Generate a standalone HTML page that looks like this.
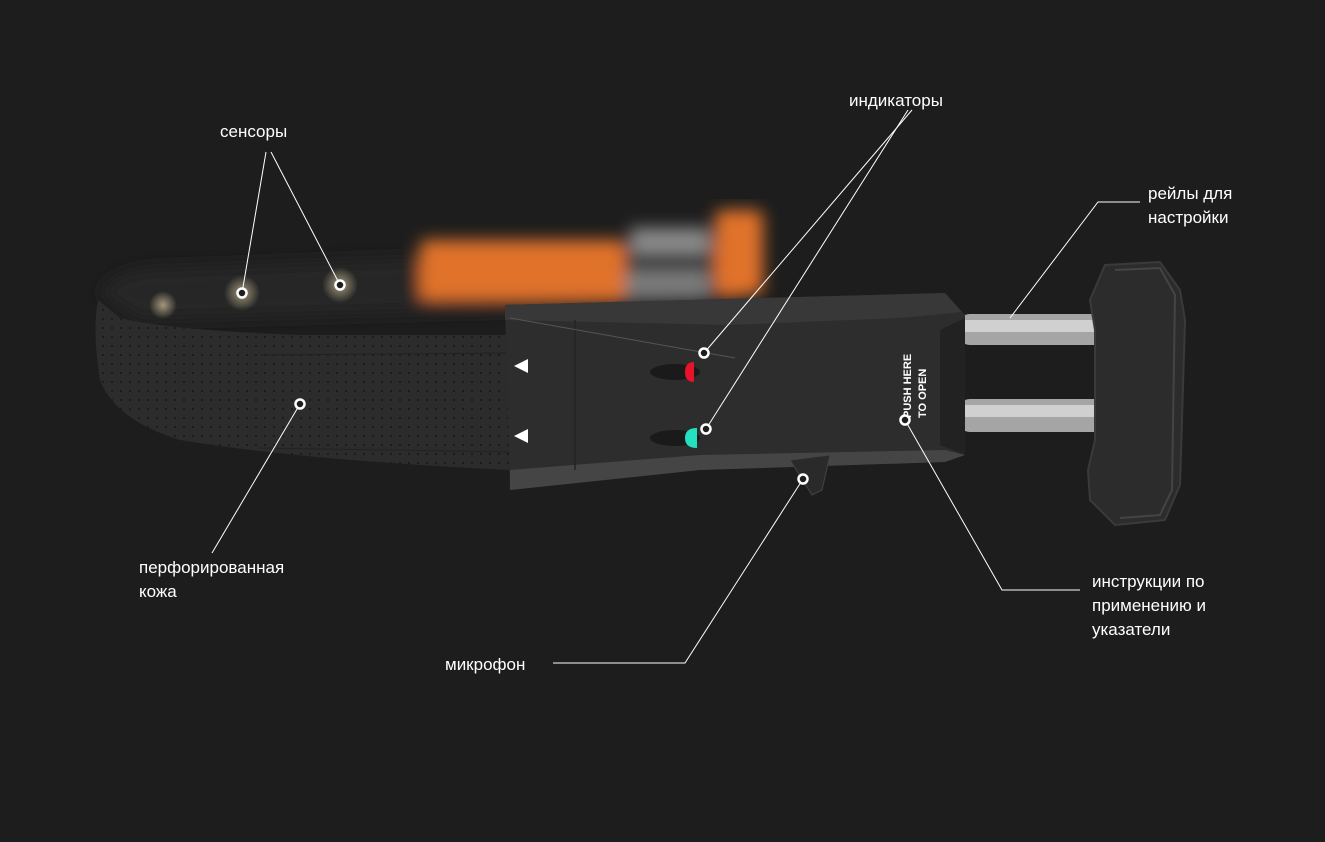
<!DOCTYPE html>
<html><head><meta charset="utf-8"><style>
html,body{margin:0;padding:0;background:#1d1d1d;}
svg{display:block}
text{font-family:"Liberation Sans","DejaVu Sans",sans-serif;font-size:17px;fill:#fff}
</style></head><body>
<svg width="1325" height="842" viewBox="0 0 1325 842" xmlns="http://www.w3.org/2000/svg">
<defs>
<filter id="b6"><feGaussianBlur stdDeviation="8"/></filter>
<filter id="b3"><feGaussianBlur stdDeviation="3"/></filter>
<pattern id="dots" width="9" height="9" patternUnits="userSpaceOnUse"><circle cx="4" cy="4" r="1.1" fill="#151515"/></pattern>
<radialGradient id="glow"><stop offset="0" stop-color="#d8c9a0" stop-opacity="0.7"/><stop offset="1" stop-color="#d8c9a0" stop-opacity="0"/></radialGradient>
<clipPath id="strapclip"><path d="M98 300 Q92 330 100 380 Q115 420 180 440 Q300 460 510 470 L510 335 L300 335 Q170 330 120 318 Z"/></clipPath>
</defs>
<rect width="1325" height="842" fill="#1d1d1d"/>
<g filter="url(#b6)">
<path d="M100 295 Q110 270 160 268 L500 255 L740 240 L740 300 L500 310 L140 320 Z" fill="#262626"/>
<rect x="420" y="240" width="205" height="60" rx="6" fill="#e0722a"/>
<rect x="715" y="210" width="48" height="85" rx="8" fill="#e0722a"/>
<rect x="630" y="228" width="80" height="26" fill="#8a8a8a"/>
<rect x="625" y="270" width="85" height="28" fill="#7a7a7a"/>
</g>
<circle cx="242" cy="293" r="18" fill="url(#glow)"/>
<circle cx="340" cy="285" r="18" fill="url(#glow)"/>
<circle cx="163" cy="305" r="14" fill="url(#glow)"/>
<path d="M98 300 Q92 330 100 380 Q115 420 180 440 Q300 460 510 470 L510 335 L300 335 Q170 330 120 318 Z" fill="#2c2c2c"/>
<rect x="90" y="300" width="420" height="175" fill="url(#dots)" clip-path="url(#strapclip)" opacity="0.8"/>
<line x1="260" y1="355" x2="510" y2="353" stroke="#222" stroke-width="1"/>
<line x1="260" y1="448" x2="510" y2="452" stroke="#222" stroke-width="1"/>
<rect x="958" y="314" width="152" height="31" rx="12" fill="#a5a5a5"/>
<rect x="960" y="320" width="150" height="12" rx="5" fill="#d0d0d0"/>
<rect x="958" y="399" width="152" height="33" rx="12" fill="#a5a5a5"/>
<rect x="960" y="405" width="150" height="12" rx="5" fill="#d0d0d0"/>
<path d="M1105 265 L1160 262 L1180 290 L1185 320 L1180 485 L1165 520 L1115 525 L1090 500 L1088 470 L1095 440 L1095 330 L1090 300 Z" fill="#2c2c2c" stroke="#3a3a3a" stroke-width="2"/>
<path d="M1115 270 L1160 268 L1175 295 L1172 490 L1160 515 L1120 518" fill="none" stroke="#444" stroke-width="2"/>
<path d="M505 305 L945 293 L965 315 L965 455 L945 462 L700 470 L510 490 Z" fill="#2d2d2d"/>
<path d="M505 305 L945 293 L962 312 L900 318 L730 325 L505 320 Z" fill="#383838"/>
<path d="M510 470 L700 455 L945 450 L965 455 L945 462 L700 470 L510 490 Z" fill="#454545"/>
<line x1="575" y1="320" x2="575" y2="470" stroke="#242424" stroke-width="1.5"/>
<line x1="510" y1="318" x2="735" y2="358" stroke="#555" stroke-width="1"/>
<path d="M940 330 L965 318 L965 455 L940 445 Z" fill="#222"/>
<polygon points="514,366 528,359 528,373" fill="#fff"/>
<polygon points="514,436 528,429 528,443" fill="#fff"/>
<ellipse cx="675" cy="372" rx="25" ry="8" fill="#1a1a1a"/>
<ellipse cx="675" cy="438" rx="25" ry="8" fill="#1a1a1a"/>
<path d="M694 362 Q685 362 685 372 Q685 382 694 382 Z" fill="#e8122a"/>
<path d="M697 428 Q685 428 685 438 Q685 448 697 448 Z" fill="#22e0c0"/>
<path d="M790 460 L830 455 L822 490 L812 495 Z" fill="#2a2a2a" stroke="#444"/>
<text transform="translate(911,418) rotate(-90)" style="font-size:11px;font-weight:bold">PUSH HERE</text>
<text transform="translate(926,418) rotate(-90)" style="font-size:11px;font-weight:bold">TO OPEN</text>
<g stroke="#fff" stroke-width="1" fill="none">
<line x1="266" y1="152" x2="242" y2="293"/>
<line x1="271" y1="152" x2="340" y2="285"/>
<line x1="912" y1="110" x2="704" y2="353"/>
<line x1="908" y1="110" x2="706" y2="429"/>
<polyline points="1140,202 1098,202 1010,318"/>
<polyline points="905,420 1002,590 1080,590"/>
<polyline points="553,663 685,663 803,479"/>
<line x1="212" y1="553" x2="300" y2="404"/>
</g>
<g stroke="#fff" stroke-width="2.5" fill="#1d1d1d">
<circle cx="242" cy="293" r="4.5"/>
<circle cx="340" cy="285" r="4.5"/>
<circle cx="300" cy="404" r="4.5"/>
<circle cx="704" cy="353" r="4.5"/>
<circle cx="706" cy="429" r="4.5"/>
<circle cx="803" cy="479" r="4.5"/>
<circle cx="905" cy="420" r="4.5"/>
</g>
<text x="220" y="137">сенсоры</text>
<text x="849" y="106">индикаторы</text>
<text x="1148" y="199">рейлы для</text>
<text x="1148" y="223">настройки</text>
<text x="139" y="573">перфорированная</text>
<text x="139" y="597">кожа</text>
<text x="445" y="670">микрофон</text>
<text x="1092" y="587">инструкции по</text>
<text x="1092" y="611">применению и</text>
<text x="1092" y="635">указатели</text>
</svg>
</body></html>
